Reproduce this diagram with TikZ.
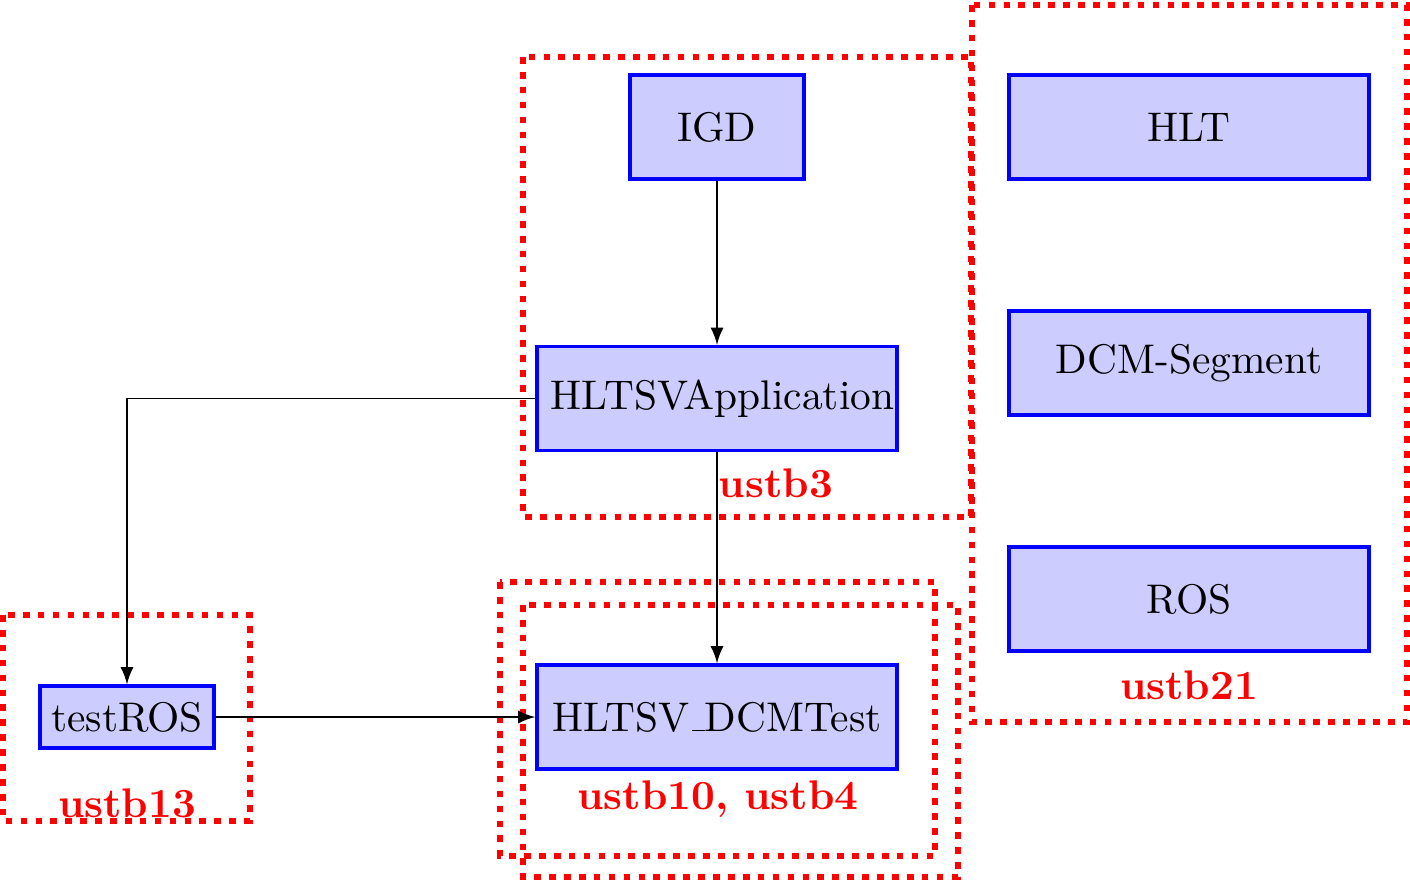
\documentclass[tikz,border=0pt]{standalone}
\usetikzlibrary{arrows}
\newcommand\pxu{0.2415pt}
\newcommand\lowbar{\leavevmode\kern.06em\vbox{\hrule width.3em}}
\begin{document}
\begin{tikzpicture}[x=\pxu,y=-\pxu,
  comp/.style={draw=blue,thick,fill=blue!20,inner ysep=0pt,font=\normalsize},
  bigcomp/.style={comp,text width=360*\pxu-0.6667em,align=center,minimum height=104*\pxu},
  grp/.style={draw=red,ultra thick,dotted},
  grplabel/.style={text=red,font=\bfseries,inner sep=0pt},
  conn/.style={-latex,black,line width=0.45pt}]
\useasboundingbox (0,0) rectangle (1410,881);
% group frames
\draw[grp] (523,57) rectangle (971,517);
\draw[grp] (972,5) rectangle (1407,722);
\draw[grp] (3,615) rectangle (250,821);
\draw[grp] (500,582) rectangle (935,856);
\draw[grp] (523,605) rectangle (958,877);
% components
\node[comp,minimum width=174*\pxu,minimum height=104*\pxu] (igd) at (717,127) {IGD};
\node[bigcomp] (app) at (717,398.5) {HLTSVApplication};
\node[bigcomp] (dcmt) at (717,717) {HLTSV\lowbar DCMTest};
\node[comp,inner xsep=2.7pt,minimum width=174*\pxu,minimum height=62*\pxu] (tros) at (127,717) {testROS};
\node[bigcomp] (hlt) at (1189,127) {HLT};
\node[bigcomp] (seg) at (1189,363) {DCM-Segment};
\node[bigcomp] (ros) at (1189,599) {ROS};
% labels
\node[grplabel] (l3) at (776,483) {ustb3};
\node[grplabel] (l21) at (1189,685) {ustb21};
\node[grplabel] (l13) at (127,803) {ustb13};
\node[grplabel] (l104) at (718,799) {ustb10, ustb4};
% connectors
\draw[conn] (igd.south) -- (app.north);
\draw[conn] (app.south) -- (dcmt.north);
\draw[conn] (app.west) -| (tros.north);
\draw[conn] (tros.east) -- (dcmt.west);
\end{tikzpicture}
\end{document}
